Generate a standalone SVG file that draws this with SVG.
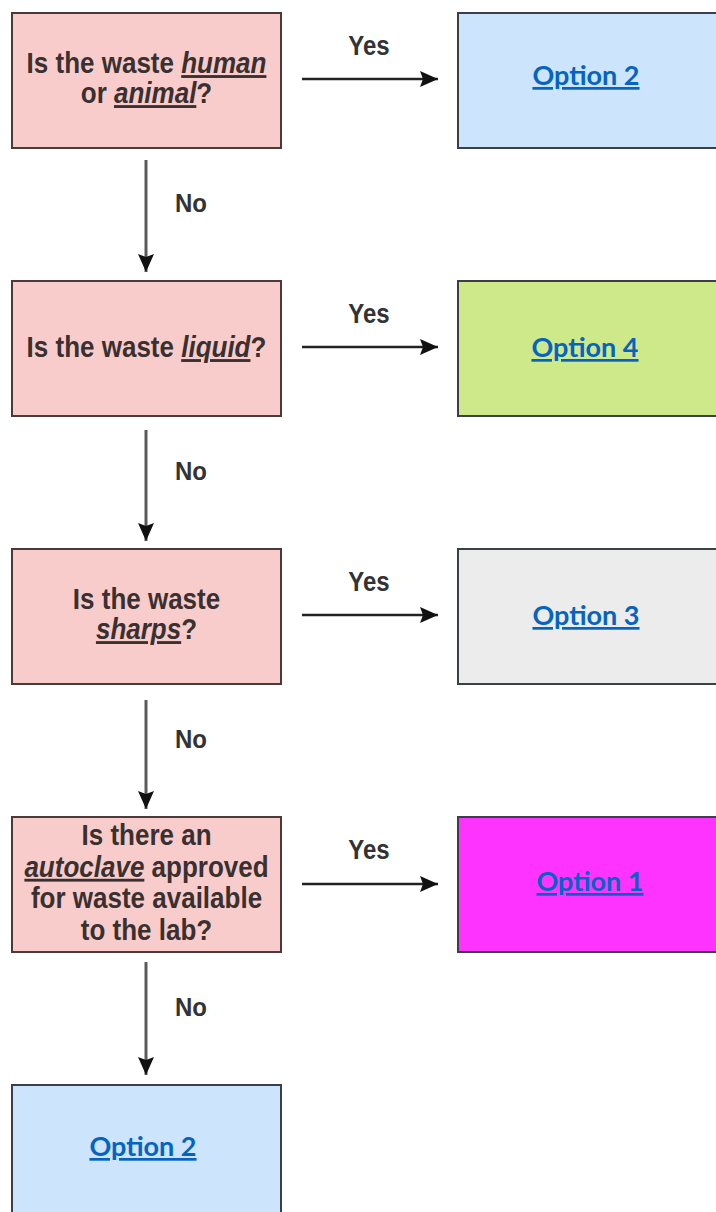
<svg xmlns="http://www.w3.org/2000/svg" width="716" height="1212" viewBox="0 0 716 1212">
<defs>
<style>
.q{fill:#f9cccc;stroke:#4a3a3a;stroke-width:2}
.q-t{font-family:"Liberation Sans",Arial,sans-serif;font-weight:bold;font-size:26px;fill:#3a3030;text-anchor:middle}
.em{font-style:italic;text-decoration:underline}
.opt{stroke:#3a3f48;stroke-width:2}
.o-t{font-family:Lato,"Open Sans",sans-serif;font-weight:bold;font-size:27px;fill:#0563c1;text-anchor:middle;text-decoration:underline}
.lbl{font-family:"Liberation Sans",Arial,sans-serif;font-weight:bold;font-size:24px;fill:#333;text-anchor:middle}
.v{stroke:#5a5a5a;stroke-width:3;fill:none}
.h{stroke:#222;stroke-width:2.5;fill:none}
</style>
<marker id="ah" markerUnits="userSpaceOnUse" markerWidth="20" markerHeight="20" viewBox="0 0 20 20" refX="19" refY="10" orient="auto">
<path d="M1,2 L19,10 L1,18 L4,10 z" fill="#111"/>
</marker>
</defs>
<rect width="716" height="1212" fill="#ffffff"/>

<g id="connectors">
<line class="v" x1="146" y1="160" x2="146" y2="272" marker-end="url(#ah)"/>
<line class="v" x1="146" y1="430" x2="146" y2="541" marker-end="url(#ah)"/>
<line class="v" x1="146" y1="700" x2="146" y2="809" marker-end="url(#ah)"/>
<line class="v" x1="146" y1="962" x2="146" y2="1075" marker-end="url(#ah)"/>
<line class="h" x1="302" y1="79" x2="438" y2="79" marker-end="url(#ah)"/>
<line class="h" x1="302" y1="347" x2="438" y2="347" marker-end="url(#ah)"/>
<line class="h" x1="302" y1="615" x2="438" y2="615" marker-end="url(#ah)"/>
<line class="h" x1="302" y1="884" x2="438" y2="884" marker-end="url(#ah)"/>
<text class="lbl" transform="translate(369,55) scale(1,1.12)">Yes</text>
<text class="lbl" transform="translate(369,323) scale(1,1.12)">Yes</text>
<text class="lbl" transform="translate(369,591) scale(1,1.12)">Yes</text>
<text class="lbl" transform="translate(369,859) scale(1,1.12)">Yes</text>
<text class="lbl" transform="translate(191,212) scale(1,1.05)" font-size="25">No</text>
<text class="lbl" transform="translate(191,480) scale(1,1.05)" font-size="25">No</text>
<text class="lbl" transform="translate(191,748) scale(1,1.05)" font-size="25">No</text>
<text class="lbl" transform="translate(191,1016) scale(1,1.05)" font-size="25">No</text>
</g>

<g id="q1">
<rect class="q" x="12" y="13" width="269" height="135"/>
<text class="q-t" transform="translate(146.5,73) scale(1,1.1)"><tspan x="0" y="0">Is the waste <tspan class="em">human</tspan></tspan><tspan x="0" y="27.3">or <tspan class="em">animal</tspan>?</tspan></text>
</g>
<g id="q2">
<rect class="q" x="12" y="281" width="269" height="135"/>
<text class="q-t" transform="translate(146.5,357) scale(1,1.1)">Is the waste <tspan class="em">liquid</tspan>?</text>
</g>
<g id="q3">
<rect class="q" x="12" y="549" width="269" height="135"/>
<text class="q-t" transform="translate(146.5,609) scale(1,1.1)"><tspan x="0" y="0">Is the waste</tspan><tspan x="0" y="27.3"><tspan class="em">sharps</tspan>?</tspan></text>
</g>
<g id="q4">
<rect class="q" x="12" y="817" width="269" height="135"/>
<text class="q-t" transform="translate(146.5,845) scale(1,1.1)"><tspan x="0" y="0">Is there an</tspan><tspan x="0" y="28.8"><tspan class="em">autoclave</tspan> approved</tspan><tspan x="0" y="57.6">for waste available</tspan><tspan x="0" y="86.4">to the lab?</tspan></text>
</g>

<g id="opt2a">
<rect class="opt" x="458" y="13" width="280" height="135" fill="#cce4fc"/>
<text class="o-t" x="586" y="85">Option 2</text>
</g>
<g id="opt4">
<rect class="opt" x="458" y="281" width="280" height="135" fill="#cde98a"/>
<text class="o-t" x="585" y="357">Option 4</text>
</g>
<g id="opt3">
<rect class="opt" x="458" y="549" width="280" height="135" fill="#ececec"/>
<text class="o-t" x="586" y="625">Option 3</text>
</g>
<g id="opt1">
<rect class="opt" x="458" y="817" width="280" height="135" fill="#ff33ff" stroke="#5a2a5a"/>
<text class="o-t" x="590" y="891">Option 1</text>
</g>
<g id="opt2b">
<rect class="opt" x="12" y="1085" width="269" height="150" fill="#cce4fc"/>
<text class="o-t" x="143" y="1156">Option 2</text>
</g>
</svg>
